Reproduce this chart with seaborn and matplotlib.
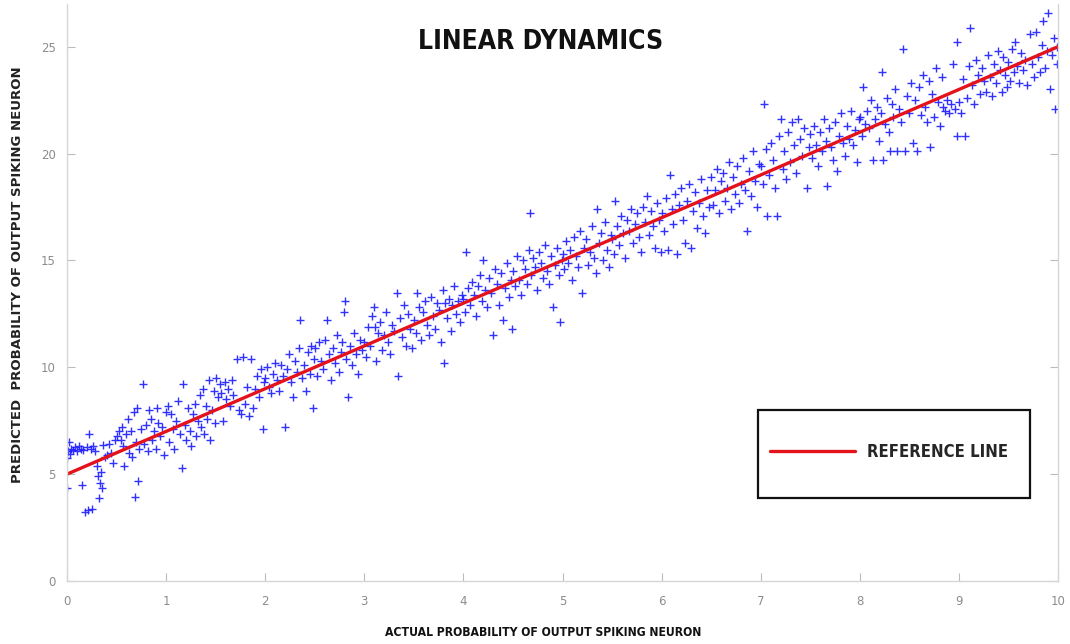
import matplotlib
matplotlib.use("Agg")
import matplotlib.pyplot as plt
from matplotlib.patches import Rectangle
import seaborn as sns
import numpy as np
import pandas as pd

# ---------------- data ----------------
x_bin0 = [0.00,0.01,0.02,0.03,0.00,0.04,0.06,0.08,0.10,0.12,0.14,0.15,0.16,0.18,0.20,0.21,0.22,0.24,0.25,0.26,0.28,0.30,0.31,0.32,0.33,0.34,0.35,0.36,0.38,0.40,0.42,0.44,0.46,0.48,
          0.50,0.52,0.54,0.55,0.57,0.58,0.60,0.62,0.63,0.65,0.66,0.68,0.69,0.70,0.71,0.72,0.73,0.75,0.77,0.78,0.80,0.82,0.83,0.85,0.86,0.88,0.90,0.91,0.92,0.94,0.96,0.98]
y_bin0 = [5.75,6.10,6.50,5.95,4.35,6.20,6.15,6.25,6.10,6.30,6.20,4.50,6.15,3.25,6.25,3.30,6.90,6.20,3.35,6.30,6.10,5.40,4.90,3.90,4.60,5.10,4.35,6.35,5.80,5.90,6.40,6.00,5.50,6.60,
          6.80,7.00,6.60,7.20,6.30,5.40,6.90,7.60,6.00,7.00,5.80,7.90,3.95,6.50,8.10,4.70,6.20,7.10,9.20,6.40,7.30,6.10,8.00,7.60,6.60,7.00,6.20,8.10,7.40,6.80,7.20,5.90]

x_bin1 = [1.00,1.02,1.03,1.05,1.07,1.08,1.10,1.12,1.14,1.16,1.17,1.19,1.20,1.22,1.24,1.25,1.27,1.29,1.30,1.32,1.34,1.35,1.37,1.38,1.40,1.41,1.43,1.44,1.46,1.48,1.49,
          1.50,1.52,1.54,1.55,1.57,1.59,1.60,1.62,1.64,1.66,1.68,1.72,1.74,1.76,1.78,1.80,1.82,1.84,1.86,1.88,1.90,1.92,1.94,1.96,1.98,1.99]
y_bin1 = [7.90,8.20,6.50,7.80,7.10,6.20,7.50,8.40,6.90,5.30,9.20,7.30,6.60,8.10,7.00,6.30,7.80,8.30,6.80,7.50,8.70,7.20,9.00,6.90,8.20,7.60,9.40,6.60,8.00,8.90,7.40,
          9.50,8.60,9.20,8.80,7.50,9.30,8.50,9.00,8.20,9.40,8.70,10.40,8.00,7.80,10.50,8.30,9.10,7.70,10.40,8.10,9.00,9.60,8.60,9.90,7.10,9.30]

x_bin2 = [2.00,2.02,2.04,2.06,2.08,2.10,2.12,2.14,2.16,2.18,2.20,2.22,2.24,2.26,2.28,2.30,2.32,2.34,2.35,2.37,2.39,2.41,2.43,2.45,2.46,2.48,2.49,
          2.50,2.52,2.54,2.56,2.58,2.60,2.62,2.64,2.66,2.68,2.70,2.72,2.74,2.76,2.78,2.80,2.81,2.82,2.84,2.86,2.88,2.90,2.92,2.94,2.96,2.98]
y_bin2 = [9.50,10.00,9.10,8.80,9.70,10.20,9.40,8.90,10.10,9.60,7.20,9.90,10.60,9.30,8.60,10.30,9.80,10.90,12.20,9.50,10.10,8.90,10.70,9.70,11.00,8.10,10.40,
          10.90,9.60,11.20,10.30,9.90,11.30,12.20,10.60,9.40,10.90,10.20,11.50,9.80,10.70,11.20,12.60,13.10,10.40,8.60,11.00,10.10,11.60,10.60,9.70,11.30,10.80]

x_bin3 = [3.00,3.02,3.04,3.06,3.08,3.10,3.11,3.12,3.14,3.16,3.18,3.20,3.22,3.24,3.26,3.28,3.30,3.33,3.34,3.36,3.38,3.40,3.42,3.44,3.46,3.48,
          3.50,3.52,3.53,3.55,3.57,3.59,3.61,3.63,3.65,3.67,3.69,3.71,3.73,3.75,3.77,3.79,3.80,3.81,3.83,3.85,3.87,3.89,3.91,3.93,3.95,3.97,3.99]
y_bin3 = [11.20,10.50,11.90,11.00,12.40,12.80,11.90,10.30,11.60,12.10,10.80,11.50,12.60,11.20,10.60,12.00,11.70,13.50,9.60,12.30,11.40,12.90,11.00,12.50,11.80,10.90,
          12.20,11.60,13.50,12.80,11.30,12.60,13.10,12.00,11.50,13.30,12.40,11.80,13.00,12.70,11.20,13.60,10.20,13.00,12.30,13.20,11.70,12.90,13.80,12.50,13.10,12.10,13.40]

x_bin4 = [4.00,4.02,4.03,4.05,4.07,4.09,4.11,4.13,4.15,4.17,4.19,4.20,4.22,4.24,4.26,4.28,4.30,4.32,4.34,4.36,4.38,4.40,4.42,4.44,4.46,4.48,4.49,
          4.50,4.52,4.54,4.56,4.58,4.60,4.62,4.64,4.66,4.67,4.68,4.70,4.72,4.74,4.76,4.78,4.80,4.82,4.84,4.86,4.88,4.90,4.92,4.94,4.96,4.97,4.99]
y_bin4 = [13.20,12.60,15.40,13.70,12.90,14.00,13.40,12.40,13.80,14.30,13.10,15.00,13.60,12.80,14.20,13.50,11.50,14.60,13.90,12.90,14.40,12.20,13.70,14.90,13.30,14.10,11.80,
          14.50,13.80,15.20,14.10,13.40,15.00,14.60,13.90,15.50,17.20,14.30,15.10,14.70,13.60,15.40,14.90,14.20,15.70,14.50,13.90,15.20,12.80,14.80,15.60,14.30,12.10,15.00]

x_bin5 = [5.00,5.02,5.04,5.06,5.08,5.10,5.12,5.14,5.16,5.18,5.20,5.22,5.24,5.26,5.28,5.30,5.32,5.34,5.35,5.37,5.39,5.41,5.43,5.45,5.47,5.49,
          5.50,5.52,5.53,5.55,5.57,5.59,5.61,5.63,5.65,5.67,5.69,5.71,5.73,5.75,5.77,5.79,5.81,5.83,5.85,5.87,5.89,5.91,5.93,5.95,5.97,5.99]
y_bin5 = [15.30,14.60,15.90,14.90,15.50,14.10,16.10,15.20,14.70,16.40,13.50,15.60,16.00,14.80,15.40,16.60,15.10,14.40,17.40,15.80,16.30,15.00,16.80,15.50,14.70,16.20,
          16.00,15.30,17.80,16.60,15.70,17.10,16.30,15.10,16.90,16.40,17.40,15.80,16.70,17.20,16.10,15.40,17.50,16.80,18.00,16.20,17.30,16.60,15.60,17.70,16.90,15.40]

x_bin6 = [6.00,6.02,6.04,6.06,6.08,6.10,6.12,6.14,6.16,6.18,6.20,6.22,6.24,6.26,6.28,6.30,6.32,6.34,6.36,6.38,6.40,6.42,6.44,6.46,6.48,
          6.50,6.52,6.54,6.56,6.58,6.60,6.62,6.64,6.66,6.68,6.70,6.72,6.74,6.76,6.78,6.80,6.82,6.84,6.86,6.88,6.90,6.92,6.94,6.96,6.98]
y_bin6 = [17.20,16.40,17.90,15.50,19.00,17.40,16.70,18.10,15.30,17.60,18.40,16.90,15.80,17.80,18.60,15.60,17.30,18.20,16.50,17.70,18.80,17.10,16.30,18.30,17.50,
          18.90,17.60,18.30,19.30,17.20,18.70,19.10,17.80,18.40,19.60,17.40,18.90,18.10,19.40,17.70,18.60,19.80,18.30,16.40,19.20,18.00,20.10,18.70,17.50,19.50]

x_bin7 = [7.00,7.02,7.03,7.05,7.06,7.08,7.10,7.12,7.14,7.16,7.18,7.20,7.22,7.24,7.26,7.28,7.30,7.32,7.34,7.36,7.38,7.40,7.42,7.44,7.47,7.49,
          7.50,7.52,7.54,7.56,7.58,7.60,7.62,7.64,7.66,7.67,7.69,7.71,7.73,7.75,7.77,7.79,7.81,7.83,7.85,7.87,7.89,7.91,7.93,7.95,7.97,7.99]
y_bin7 = [19.40,18.60,22.30,20.20,17.10,19.00,20.50,19.70,18.40,17.10,20.80,21.60,19.30,20.10,18.80,21.00,19.60,21.50,20.40,19.10,21.60,20.70,19.90,21.20,18.40,20.30,
          20.90,19.80,21.30,20.40,19.40,21.00,20.10,21.60,20.60,18.50,21.20,20.30,19.70,21.50,19.20,20.80,21.90,20.50,19.90,21.30,20.70,22.00,20.40,21.10,19.60,21.60]

x_bin8 = [8.00,8.02,8.03,8.05,8.07,8.09,8.11,8.13,8.15,8.17,8.19,8.21,8.22,8.23,8.25,8.27,8.29,8.30,8.32,8.34,8.36,8.38,8.40,8.42,8.44,8.46,8.48,
          8.50,8.52,8.54,8.56,8.58,8.60,8.62,8.64,8.66,8.68,8.70,8.71,8.73,8.75,8.77,8.79,8.81,8.83,8.84,8.86,8.88,8.90,8.92,8.94,8.96,8.98,8.98]
y_bin8 = [21.70,20.80,23.10,21.40,22.00,21.20,22.50,19.70,21.60,22.20,20.60,21.90,23.80,19.70,21.40,22.60,21.00,20.10,22.30,21.70,23.00,20.10,22.10,21.50,24.90,20.10,22.70,
          21.90,23.30,20.50,22.50,20.10,23.10,21.80,23.70,22.20,21.50,23.40,20.30,22.80,21.70,24.00,22.40,21.30,23.60,22.20,22.00,22.50,21.90,22.30,24.20,22.10,20.80,25.20]

x_bin9 = [9.00,9.02,9.04,9.06,9.08,9.10,9.11,9.13,9.15,9.17,9.19,9.21,9.23,9.25,9.27,9.29,9.31,9.33,9.35,9.37,9.39,9.41,9.43,9.45,9.47,9.49,
          9.50,9.52,9.54,9.56,9.57,9.59,9.61,9.63,9.65,9.67,9.69,9.72,9.74,9.76,9.78,9.80,9.82,9.84,9.85,9.87,9.89,9.90,9.92,9.94,9.96,9.97,9.99,9.99]
y_bin9 = [22.40,21.90,23.50,20.80,22.60,24.10,25.90,23.20,22.30,24.40,23.70,22.80,24.00,23.40,22.90,24.60,23.60,22.70,24.20,23.30,24.80,23.90,22.90,24.50,23.70,23.10,
          24.30,23.40,24.90,23.80,25.20,24.10,23.30,24.70,23.90,24.40,23.20,25.60,24.20,23.60,25.70,24.50,23.80,25.10,26.20,24.00,24.80,26.60,23.00,24.60,25.40,22.10,24.20,25.00]

ref_x = [0, 10]
ref_y = [5, 25]

x_ticks = [0, 1, 2, 3, 4, 5, 6, 7, 8, 9, 10]
y_ticks = [0, 5, 10, 15, 20, 25]

title_text = "LINEAR DYNAMICS"
xlabel_text = "ACTUAL PROBABILITY OF OUTPUT SPIKING NEURON"
ylabel_text = "PREDICTED  PROBABILITY OF OUTPUT SPIKING NEURON"
legend_label = "REFERENCE LINE"

# ---------------- build table ----------------
xs = x_bin0 + x_bin1 + x_bin2 + x_bin3 + x_bin4 + x_bin5 + x_bin6 + x_bin7 + x_bin8 + x_bin9
ys = y_bin0 + y_bin1 + y_bin2 + y_bin3 + y_bin4 + y_bin5 + y_bin6 + y_bin7 + y_bin8 + y_bin9
df = pd.DataFrame({"actual": xs, "predicted": ys})
ref = pd.DataFrame({"x": ref_x, "y": ref_y})

sns.set_theme(style="white")
plt.rcParams["font.family"] = ["DejaVu Sans"]

fig = plt.figure(figsize=(10.70, 6.44), dpi=100)
ax = fig.add_axes([67/1070, 1 - 581/644, (1058-67)/1070, (581-4)/644])

sns.scatterplot(data=df, x="actual", y="predicted", marker="+", color="#1c1cff",
                s=40, linewidth=1.0, alpha=0.9, ax=ax, legend=False)
sns.lineplot(data=ref, x="x", y="y", color="#e3121b", linewidth=2.4, ax=ax,
             label=legend_label)

ax.set_xlim(0, 10)
ax.set_ylim(0, 27)
ax.set_xticks(x_ticks)
ax.set_yticks(y_ticks)
ax.set_xlabel("")
ax.set_ylabel("")

for side in ["left", "bottom", "right"]:
    ax.spines[side].set_visible(True)
    ax.spines[side].set_color("#d6d6d6")
    ax.spines[side].set_linewidth(1.0)
ax.spines["top"].set_visible(False)

ax.tick_params(axis="both", direction="in", length=6, width=0.8, color="#bbbbbb",
               labelcolor="#8c8c8c", labelsize=8.5)
ax.tick_params(axis="y", right=True, left=True, pad=8)
ax.tick_params(axis="x", bottom=True, pad=10)

fig.text(0.505, 0.935, title_text, ha="center", va="center", fontsize=19,
         fontweight="bold", fontstretch="condensed", color="#111111")
fig.text(0.508, 0.018, xlabel_text, ha="center", va="center", fontsize=8.7,
         fontweight="bold", fontstretch="condensed", color="#111111")
fig.text(0.016, 0.573, ylabel_text, ha="center", va="center", fontsize=9.5,
         fontweight="bold", rotation=90, color="#222222")

# legend box (frame drawn as a rectangle in axes coordinates)
ax.add_patch(Rectangle((0.697, 0.144), 0.275, 0.152, transform=ax.transAxes,
                       facecolor="white", edgecolor="#111111", linewidth=1.6,
                       zorder=5))
leg = ax.legend(loc="center left", bbox_to_anchor=(0.7094, 0.2236),
                frameon=False, handlelength=5.1, borderpad=0, borderaxespad=0,
                handletextpad=0.72,
                prop={"weight": "bold", "size": 12, "stretch": "condensed"})
leg.set_zorder(6)
for line in leg.get_lines():
    line.set_linewidth(2.4)

fig.savefig("out.png", dpi=100)
